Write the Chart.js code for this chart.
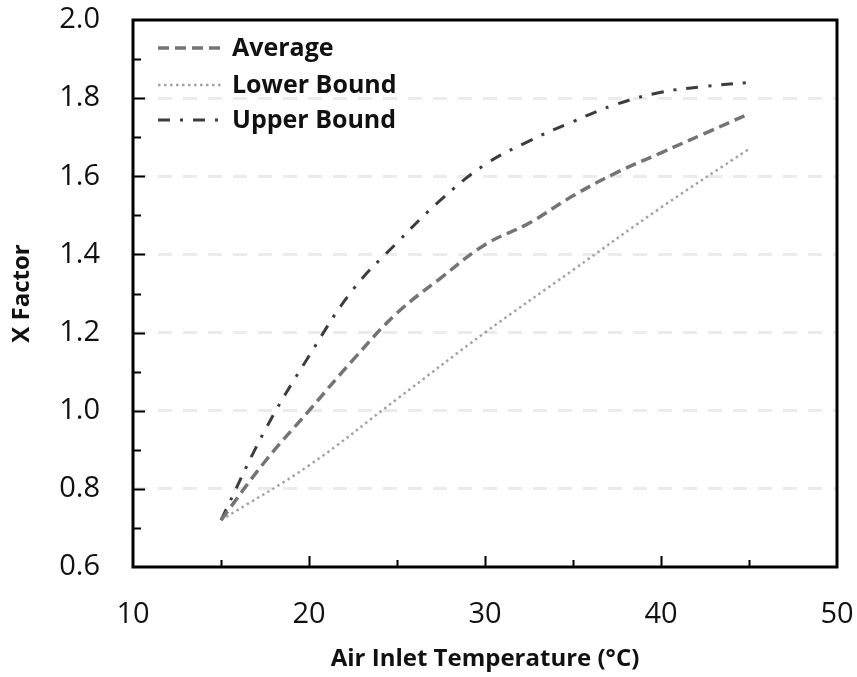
<!DOCTYPE html>
<html>
<head>
<meta charset="utf-8">
<script src="https://cdn.jsdelivr.net/npm/chart.js@4.4.0/dist/chart.umd.min.js"></script>
<style>
  html, body { margin: 0; padding: 0; background: #fff; }
  canvas { display: block; }
</style>
</head>
<body>
<canvas id="xFactorChart" width="857" height="677"></canvas>
<script>
// =====================
// Data
// =====================
const temps = [15, 17.5, 20, 22.5, 25, 27.5, 30, 32.5, 35, 37.5, 40, 42.5, 45];
const average = [0.72, 0.87, 1.0, 1.13, 1.25, 1.34, 1.425, 1.48, 1.55, 1.61, 1.66, 1.71, 1.76];
const upperBound = [0.72, 0.95, 1.14, 1.31, 1.43, 1.54, 1.63, 1.69, 1.74, 1.785, 1.815, 1.83, 1.84];
const lowerTemps = [15, 20, 25, 30, 35, 40, 45];
const lowerBound = [0.72, 0.86, 1.03, 1.20, 1.36, 1.52, 1.67];

const seriesLabels = ['Average', 'Lower Bound', 'Upper Bound'];
const xTitle = 'Air Inlet Temperature (°C)';
const yTitle = 'X Factor';

const FONT = "'Open Sans', 'Noto Sans', sans-serif";

function toPoints(xs, ys) {
    return xs.map((x, i) => ({ x: x, y: ys[i] }));
}

// =====================
// Plugins: box frame, inside ticks, legend
// =====================
const frameTicks = {
    id: 'frameTicks',
    afterDatasetsDraw(chart) {
        const { ctx, chartArea: a, scales: { x, y } } = chart;
        ctx.save();
        ctx.strokeStyle = '#000';
        ctx.lineWidth = 2;
        ctx.beginPath();
        x.ticks.forEach(t => {
            if (t.value <= x.min || t.value >= x.max) return;
            const px = Math.round(x.getPixelForValue(t.value)) + 0.5;
            const len = t.value % 10 === 0 ? 11 : 7;
            ctx.moveTo(px, a.bottom);
            ctx.lineTo(px, a.bottom - len);
        });
        y.ticks.forEach(t => {
            if (t.value <= y.min + 1e-6 || t.value >= y.max - 1e-6) return;
            const py = Math.round(y.getPixelForValue(t.value)) + 0.5;
            const len = Math.round(t.value * 10) % 2 === 0 ? 12 : 8;
            ctx.moveTo(a.left, py);
            ctx.lineTo(a.left + len, py);
        });
        ctx.stroke();
        ctx.lineWidth = 3;
        ctx.strokeRect(a.left, a.top, a.right - a.left, a.bottom - a.top);
        ctx.restore();
    }
};

const insideLegend = {
    id: 'insideLegend',
    afterDatasetsDraw(chart) {
        const { ctx } = chart;
        const rows = [48, 85, 120];
        ctx.save();
        ctx.font = "bold 25px " + FONT;
        ctx.textBaseline = 'middle';
        ctx.fillStyle = '#111';
        chart.data.datasets.forEach((ds, i) => {
            const yy = rows[i];
            ctx.save();
            ctx.strokeStyle = ds.borderColor;
            ctx.lineWidth = ds.borderWidth;
            ctx.setLineDash(ds.borderDash || []);
            ctx.beginPath();
            ctx.moveTo(158, yy);
            ctx.lineTo(224, yy);
            ctx.stroke();
            ctx.restore();
            ctx.fillText(ds.label, 232, yy + 1);
        });
        ctx.restore();
    }
};

// =====================
// Chart
// =====================
const ctx = document.getElementById('xFactorChart');
const xFactorChart = new Chart(ctx, {
    type: 'line',
    data: {
        datasets: [
            {
                label: seriesLabels[0],
                data: toPoints(temps, average),
                borderColor: '#747474',
                borderWidth: 3.5,
                borderDash: [11, 6],
                pointRadius: 0,
                tension: 0.4,
                fill: false
            },
            {
                label: seriesLabels[1],
                data: toPoints(lowerTemps, lowerBound),
                borderColor: '#a3a3a3',
                borderWidth: 2.5,
                borderDash: [2.5, 3.5],
                pointRadius: 0,
                tension: 0.4,
                fill: false
            },
            {
                label: seriesLabels[2],
                data: toPoints(temps, upperBound),
                borderColor: '#3c3c3c',
                borderWidth: 3,
                borderDash: [12, 10, 3, 10],
                pointRadius: 0,
                tension: 0.4,
                fill: false
            }
        ]
    },
    options: {
        responsive: false,
        animation: false,
        layout: { padding: { left: 0, top: 20, right: 20, bottom: 0 } },
        plugins: {
            legend: { display: false },
            tooltip: { enabled: false }
        },
        scales: {
            x: {
                type: 'linear',
                min: 10,
                max: 50,
                afterFit: s => {
                    s.height = 110;
                    s.paddingLeft = 0;
                    s.paddingRight = 0;
                },
                ticks: {
                    stepSize: 5,
                    padding: 30,
                    color: '#111',
                    font: { family: FONT, size: 29 },
                    maxRotation: 0,
                    autoSkip: false,
                    callback: v => (v % 10 === 0 ? v : '')
                },
                grid: { display: false, drawTicks: false },
                border: { display: false },
                title: {
                    display: true,
                    text: xTitle,
                    color: '#111',
                    font: { family: FONT, size: 24, weight: 'bold' },
                    padding: { top: 0, bottom: 3 }
                }
            },
            y: {
                min: 0.6,
                max: 2.0,
                afterFit: s => {
                    s.width = 133;
                    s.paddingTop = 0;
                    s.paddingBottom = 0;
                },
                ticks: {
                    stepSize: 0.1,
                    padding: 33,
                    color: '#111',
                    font: { family: FONT, size: 29 },
                    autoSkip: false,
                    callback: v => (Math.round(v * 10) % 2 === 0 ? v.toFixed(1) : '')
                },
                grid: {
                    drawTicks: false,
                    lineWidth: 3,
                    color: c => {
                        const k = Math.round(c.tick.value * 10);
                        return (k % 2 === 0 && k > 6 && k < 20) ? '#ebebeb' : 'rgba(0,0,0,0)';
                    }
                },
                border: { display: false, dash: [14, 11] },
                title: {
                    display: true,
                    text: yTitle,
                    color: '#111',
                    font: { family: FONT, size: 24, weight: 'bold' },
                    padding: { top: 8, bottom: 0 }
                }
            }
        }
    },
    plugins: [frameTicks, insideLegend]
});
</script>
</body>
</html>
